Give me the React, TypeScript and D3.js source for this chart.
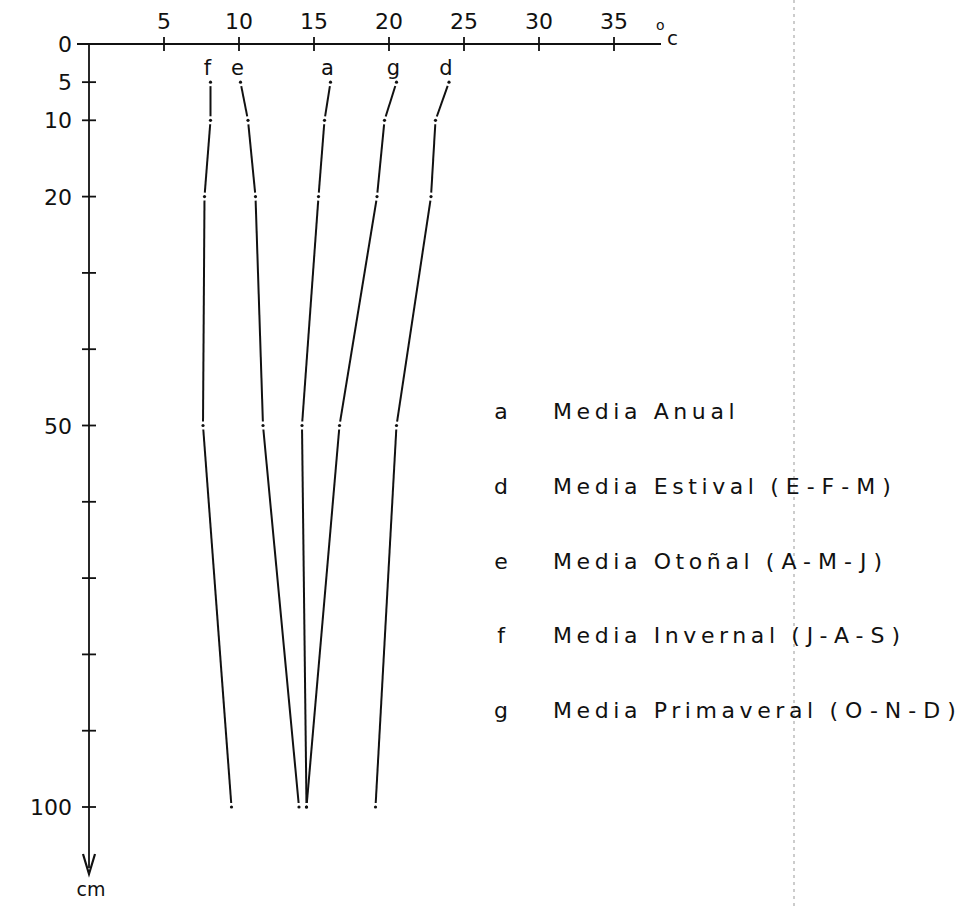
import React from 'react';
import * as d3 from 'd3';

// depth (cm) of each measurement
const depths = [5, 10, 20, 50, 100];

// mean soil temperature (°C) per depth
const serieA = [16.1, 15.7, 15.3, 14.2, 14.5];
const serieD = [24.0, 23.1, 22.8, 20.5, 19.1];
const serieE = [10.1, 10.6, 11.1, 11.6, 14.0];
const serieF = [8.1, 8.1, 7.7, 7.6, 9.5];
const serieG = [20.5, 19.7, 19.2, 16.7, 14.5];

const seriesKeys = ['f', 'e', 'a', 'g', 'd'];
const seriesValues = [serieF, serieE, serieA, serieG, serieD];

const xTicks = [5, 10, 15, 20, 25, 30, 35];
const yTicks = [0, 5, 10, 20, 30, 40, 50, 60, 70, 80, 90, 100];
const yLabels = [0, 5, 10, 20, 50, 100];

const legendKeys = ['a', 'd', 'e', 'f', 'g'];
const legendLabels = [
  'Media Anual',
  'Media Estival (E-F-M)',
  'Media Otoñal (A-M-J)',
  'Media Invernal (J-A-S)',
  'Media Primaveral (O-N-D)',
];

const W = 975;
const H = 907;
const FONT = '"DejaVu Sans", "Liberation Sans", sans-serif';

export default function App() {
  const x = d3.scaleLinear().domain([0, 35]).range([89, 614]);
  const y = d3.scaleLinear().domain([0, 100]).range([44, 807]);
  const ink = '#111';

  // each series is drawn as separate segments, leaving a small gap around the points
  const gap = 4;
  const segments: { x1: number; y1: number; x2: number; y2: number; k: string }[] = [];
  seriesValues.forEach((vals, si) => {
    for (let i = 0; i < vals.length - 1; i++) {
      const ax = x(vals[i]), ay = y(depths[i]);
      const bx = x(vals[i + 1]), by = y(depths[i + 1]);
      const len = Math.hypot(bx - ax, by - ay);
      const ux = (bx - ax) / len, uy = (by - ay) / len;
      segments.push({
        x1: ax + ux * gap, y1: ay + uy * gap,
        x2: bx - ux * gap, y2: by - uy * gap,
        k: seriesKeys[si] + i,
      });
    }
  });

  const legendY = d3.scaleLinear().domain([0, 4]).range([419, 718]);

  return (
    <svg
      width={W}
      height={H}
      style={{ position: 'absolute', left: 0, top: 0, background: '#fff' }}
      fontFamily={FONT}
    >
      {/* scan fold line */}
      <line x1={794} y1={0} x2={794} y2={H} stroke="#999" strokeWidth={1} strokeDasharray="3 4" />

      {/* x axis (temperature) on top */}
      <line x1={x(0) - 12} y1={y(0)} x2={661} y2={y(0)} stroke={ink} strokeWidth={1.8} />
      {xTicks.map(t => (
        <g key={'xt' + t}>
          <line x1={x(t)} y1={y(0) - 7} x2={x(t)} y2={y(0) + 7} stroke={ink} strokeWidth={1.8} />
          <text x={x(t)} y={29} fontSize={22} textAnchor="middle" fill={ink}>{t}</text>
        </g>
      ))}
      <text x={656} y={30} fontSize={14} fill={ink}>o</text>
      <text x={667} y={45} fontSize={20} fill={ink}>c</text>

      {/* y axis (depth) pointing down */}
      <line x1={x(0)} y1={y(0)} x2={x(0)} y2={868} stroke={ink} strokeWidth={1.8} />
      <path d={`M${x(0) - 6},${854} L${x(0)},${874} L${x(0) + 6},${854}`} fill="none" stroke={ink} strokeWidth={2.2} />
      {yTicks.filter(t => t > 0).map(t => (
        <line key={'yt' + t} x1={x(0) - 7} y1={y(t)} x2={x(0) + 7} y2={y(t)} stroke={ink} strokeWidth={1.8} />
      ))}
      {yLabels.map(t => (
        <text key={'yl' + t} x={x(0) - 17} y={y(t) + 8} fontSize={22} textAnchor="end" fill={ink}>{t}</text>
      ))}
      <text x={91} y={896} fontSize={19} textAnchor="middle" fill={ink}>cm</text>

      {/* series */}
      {segments.map(s => (
        <line key={s.k} x1={s.x1} y1={s.y1} x2={s.x2} y2={s.y2} stroke={ink} strokeWidth={2} />
      ))}
      {seriesValues.map((vals, si) =>
        vals.map((v, i) => (
          <circle key={seriesKeys[si] + 'p' + i} cx={x(v)} cy={y(depths[i])} r={1.6} fill={ink} />
        ))
      )}
      {seriesValues.map((vals, si) => (
        <text key={'lab' + si} x={x(vals[0]) - 3} y={75} fontSize={21} textAnchor="middle" fill={ink}>
          {seriesKeys[si]}
        </text>
      ))}

      {/* legend */}
      {legendKeys.map((k, i) => {
        const label = legendLabels[i];
        const cut = label.indexOf(' (');
        const name = cut < 0 ? label : label.slice(0, cut + 1);
        const months = cut < 0 ? '' : label.slice(cut + 1);
        return (
          <g key={'lg' + k}>
            <text x={501} y={legendY(i)} fontSize={22} textAnchor="middle" fill={ink}>{k}</text>
            <text x={553} y={legendY(i)} fontSize={22} fill={ink}>
              <tspan letterSpacing={4.6}>{name}</tspan>
              {months && <tspan letterSpacing={7}>{months}</tspan>}
            </text>
          </g>
        );
      })}
    </svg>
  );
}
